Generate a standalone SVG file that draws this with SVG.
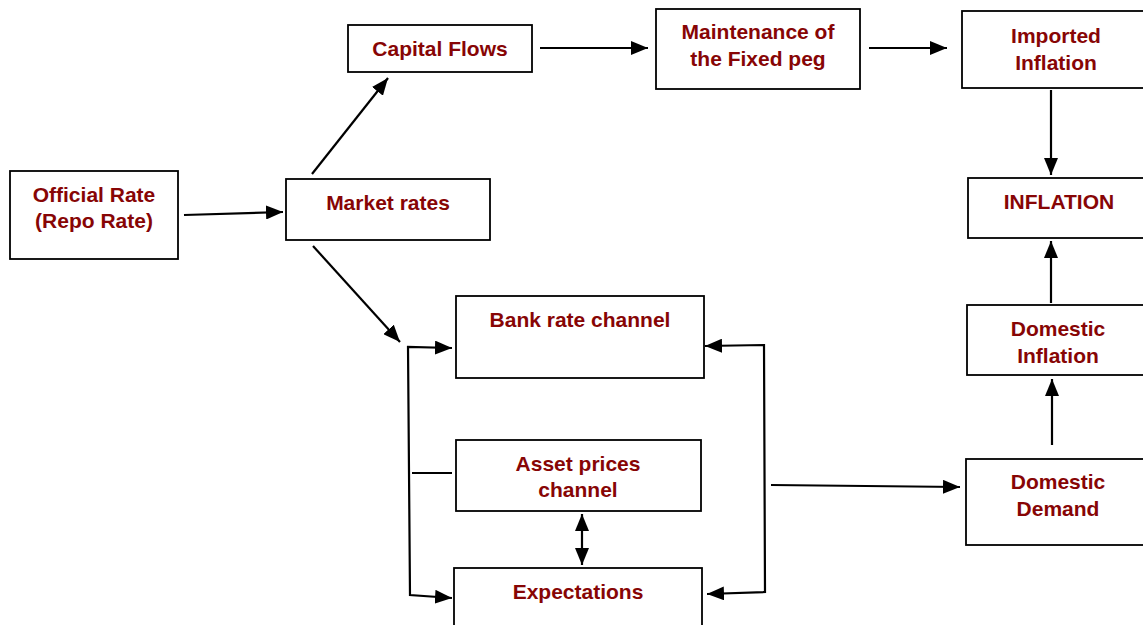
<svg xmlns="http://www.w3.org/2000/svg" width="1143" height="625" viewBox="0 0 1143 625">
  <style>
    .box { fill: #ffffff; stroke: #000000; stroke-width: 1.8; }
    .lbl { font-family: "Liberation Sans", Arial, sans-serif; font-weight: bold; font-size: 21px; fill: #870505; text-anchor: middle; }
    .wire { fill: none; stroke: #000000; stroke-width: 2.2; }
  </style>
  <defs>
    <marker id="head" viewBox="0 0 17 14" refX="17" refY="7" markerWidth="17" markerHeight="14" markerUnits="userSpaceOnUse" orient="auto-start-reverse">
      <path d="M0,0 L17,7 L0,14 Z" fill="#000000"/>
    </marker>
  </defs>

  <rect width="1143" height="625" fill="#ffffff"/>

  <g id="official-rate">
    <rect class="box" x="10" y="171" width="168" height="88"/>
    <text class="lbl" x="94" y="202">Official Rate</text>
    <text class="lbl" x="94" y="228">(Repo Rate)</text>
  </g>
  <g id="market-rates">
    <rect class="box" x="286" y="179" width="204" height="61"/>
    <text class="lbl" x="388" y="210">Market rates</text>
  </g>
  <g id="capital-flows">
    <rect class="box" x="348" y="25" width="184" height="47"/>
    <text class="lbl" x="440" y="56">Capital Flows</text>
  </g>
  <g id="fixed-peg">
    <rect class="box" x="656" y="9" width="204" height="80"/>
    <text class="lbl" x="758" y="39">Maintenance of</text>
    <text class="lbl" x="758" y="66">the Fixed peg</text>
  </g>
  <g id="imported-inflation">
    <rect class="box" x="962" y="11" width="200" height="77"/>
    <text class="lbl" x="1056" y="43">Imported</text>
    <text class="lbl" x="1056" y="70">Inflation</text>
  </g>
  <g id="inflation">
    <rect class="box" x="968" y="178" width="200" height="60"/>
    <text class="lbl" x="1059" y="209">INFLATION</text>
  </g>
  <g id="domestic-inflation">
    <rect class="box" x="967" y="305" width="200" height="70"/>
    <text class="lbl" x="1058" y="336">Domestic</text>
    <text class="lbl" x="1058" y="363">Inflation</text>
  </g>
  <g id="domestic-demand">
    <rect class="box" x="966" y="459" width="200" height="86"/>
    <text class="lbl" x="1058" y="489">Domestic</text>
    <text class="lbl" x="1058" y="516">Demand</text>
  </g>
  <g id="bank-rate">
    <rect class="box" x="456" y="296" width="248" height="82"/>
    <text class="lbl" x="580" y="327">Bank rate channel</text>
  </g>
  <g id="asset-prices">
    <rect class="box" x="456" y="440" width="245" height="71"/>
    <text class="lbl" x="578" y="471">Asset prices</text>
    <text class="lbl" x="578" y="497">channel</text>
  </g>
  <g id="expectations">
    <rect class="box" x="454" y="568" width="248" height="70"/>
    <text class="lbl" x="578" y="599">Expectations</text>
  </g>

  <g id="connectors">
    <line class="wire" x1="184" y1="215" x2="283" y2="212" marker-end="url(#head)"/>
    <line class="wire" x1="312" y1="174" x2="388" y2="78" marker-end="url(#head)"/>
    <line class="wire" x1="540" y1="48" x2="648" y2="48" marker-end="url(#head)"/>
    <line class="wire" x1="869" y1="48" x2="947" y2="48" marker-end="url(#head)"/>
    <line class="wire" x1="1051" y1="90" x2="1051" y2="175" marker-end="url(#head)"/>
    <line class="wire" x1="1051" y1="303" x2="1051" y2="241" marker-end="url(#head)"/>
    <line class="wire" x1="1052" y1="445" x2="1052" y2="379" marker-end="url(#head)"/>
    <line class="wire" x1="313" y1="246" x2="400" y2="342" marker-end="url(#head)"/>
    <polyline class="wire" points="452,348 408,347 410,595 452,598" marker-start="url(#head)" marker-end="url(#head)"/>
    <line class="wire" x1="412" y1="473" x2="452" y2="473"/>
    <polyline class="wire" points="705,346 764,345 765,592 707,594" marker-start="url(#head)" marker-end="url(#head)"/>
    <line class="wire" x1="771" y1="485" x2="960" y2="487" marker-end="url(#head)"/>
    <line class="wire" x1="582" y1="514" x2="582" y2="565" marker-start="url(#head)" marker-end="url(#head)"/>
  </g>
</svg>
